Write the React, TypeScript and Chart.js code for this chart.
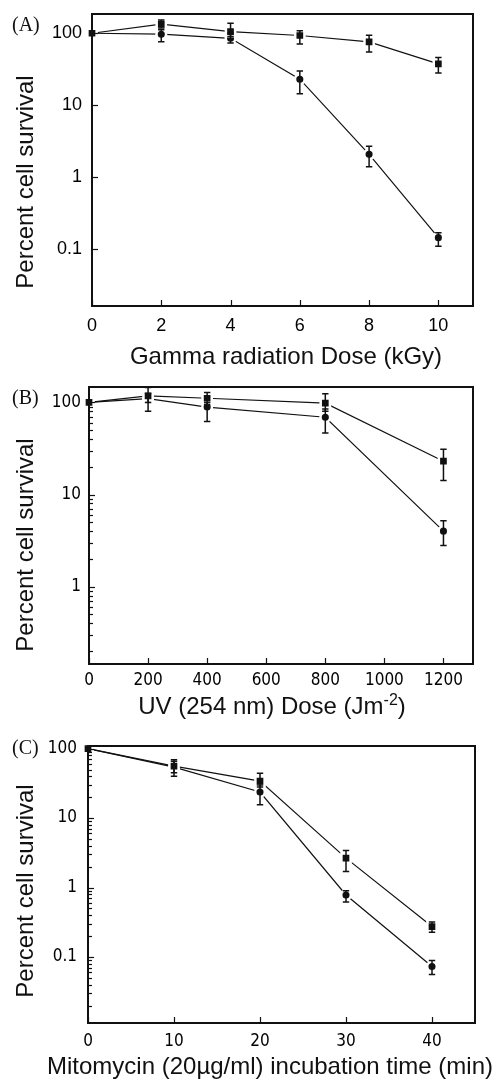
import React, { useEffect, useRef } from "react";
import { Chart, registerables } from "chart.js";

Chart.register(...registerables);

// ---------- Panel A: gamma radiation ----------
const gammaDose = [0, 2, 4, 6, 8, 10];
const gammaSquare = [100, 134, 105, 93, 76, 37.5];
const gammaSquareHi = [null, 153, 138, 108, 94, 46];
const gammaSquareLo = [null, 118, 90, 71, 55, 28];
const gammaCircle = [100, 97, 85, 23, 2.08, 0.145];
const gammaCircleHi = [null, 112, 100, 30, 2.7, 0.17];
const gammaCircleLo = [null, 76, 73, 14.4, 1.4, 0.11];
const gammaXTicks = [0, 2, 4, 6, 8, 10];
const gammaYTicks = [0.1, 1, 10, 100];

// ---------- Panel B: UV ----------
const uvDose = [0, 200, 400, 800, 1200];
const uvSquare = [100, 118, 111, 98, 23];
const uvSquareHi = [null, 145, 128, 124, 31];
const uvSquareLo = [null, 100, 95, 80, 14.2];
const uvCircle = [100, 110, 89, 69, 4.0];
const uvCircleHi = [null, 125, 100, 85, 5.2];
const uvCircleLo = [null, 80, 62, 46.5, 2.8];
const uvXTicks = [0, 200, 400, 600, 800, 1000, 1200];
const uvYTicks = [0.2, 0.3, 0.4, 0.5, 0.6, 0.7, 0.8, 0.9, 1, 2, 3, 4, 5, 6, 7, 8, 9, 10, 20, 30, 40, 50, 60, 70, 80, 90, 100];

// ---------- Panel C: mitomycin ----------
const mitoTime = [0, 10, 20, 30, 40];
const mitoSquare = [100, 56, 34, 2.65, 0.274];
const mitoSquareHi = [null, 69, 44, 3.4, 0.32];
const mitoSquareLo = [null, 45, 28, 1.7, 0.227];
const mitoCircle = [100, 54, 23.7, 0.78, 0.073];
const mitoCircleHi = [null, 66, 30, 0.9, 0.089];
const mitoCircleLo = [null, 40, 15.6, 0.62, 0.056];
const mitoXTicks = [0, 10, 20, 30, 40];
const mitoYTicks = [0.02, 0.03, 0.04, 0.05, 0.06, 0.07, 0.08, 0.09, 0.1, 0.2, 0.3, 0.4, 0.5, 0.6, 0.7, 0.8, 0.9, 1, 2, 3, 4, 5, 6, 7, 8, 9, 10, 20, 30, 40, 50, 60, 70, 80, 90, 100];

// labelled decades
const decadeTicks = [0.1, 1, 10, 100];

const INK = "#111";

const errorBarPlugin = {
  id: "errorBars",
  afterDatasetsDraw(chart: any) {
    const ctx = chart.ctx;
    const xs = chart.scales.x;
    const ys = chart.scales.y;
    ctx.save();
    ctx.strokeStyle = INK;
    ctx.lineWidth = 1.5;
    chart.data.datasets.forEach((ds: any) => {
      const hi = ds.errHi;
      const lo = ds.errLo;
      if (!hi) return;
      ds.data.forEach((pt: any, j: number) => {
        if (hi[j] == null) return;
        const px = xs.getPixelForValue(pt.x);
        const pH = ys.getPixelForValue(hi[j]);
        const pL = ys.getPixelForValue(lo[j]);
        const cap = 3.2;
        ctx.beginPath();
        ctx.moveTo(px, pH);
        ctx.lineTo(px, pL);
        ctx.moveTo(px - cap, pH);
        ctx.lineTo(px + cap, pH);
        ctx.moveTo(px - cap, pL);
        ctx.lineTo(px + cap, pL);
        ctx.stroke();
      });
    });
    ctx.restore();
  },
};

const framePlugin = {
  id: "frame",
  afterDraw(chart: any) {
    const ctx = chart.ctx;
    const { left, right, top, bottom } = chart.chartArea;
    const xs = chart.scales.x;
    const ys = chart.scales.y;
    ctx.save();
    ctx.strokeStyle = INK;
    ctx.lineWidth = 1.2;
    ys.ticks.forEach((t: any) => {
      const py = Math.round(ys.getPixelForValue(t.value)) + 0.5;
      const len = decadeTicks.includes(t.value) ? 6 : 4;
      ctx.beginPath();
      ctx.moveTo(left, py);
      ctx.lineTo(left + len, py);
      ctx.stroke();
    });
    xs.ticks.forEach((t: any) => {
      const px = Math.round(xs.getPixelForValue(t.value)) + 0.5;
      ctx.beginPath();
      ctx.moveTo(px, bottom);
      ctx.lineTo(px, bottom - 6);
      ctx.stroke();
    });
    ctx.lineWidth = 2;
    ctx.strokeRect(left, top, right - left, bottom - top);
    ctx.restore();
  },
};

type PanelProps = {
  top: number;
  height: number;
  padTop: number;
  padRight: number;
  yAxisW: number;
  xAxisH: number;
  xMin: number;
  xMax: number;
  yMin: number;
  yMax: number;
  xTicks: number[];
  yTicks: number[];
  xs: number[];
  sq: number[];
  sqHi: (number | null)[];
  sqLo: (number | null)[];
  ci: number[];
  ciHi: (number | null)[];
  ciLo: (number | null)[];
  tickFont: any;
  xPad: number;
  yPad: number;
};

function Panel(p: PanelProps) {
  const ref = useRef<HTMLCanvasElement>(null);
  useEffect(() => {
    if (!ref.current) return;
    const mk = (vals: number[]) => vals.map((v, i) => ({ x: p.xs[i], y: v }));
    const chart = new Chart(ref.current, {
      type: "line",
      data: {
        datasets: [
          {
            data: mk(p.sq),
            errHi: p.sqHi,
            errLo: p.sqLo,
            borderColor: INK,
            borderWidth: 1.2,
            pointStyle: "rect",
            pointRadius: 6.5,
            pointBackgroundColor: INK,
            pointBorderColor: "#fff",
            pointBorderWidth: 2.5,
            tension: 0,
          } as any,
          {
            data: mk(p.ci),
            errHi: p.ciHi,
            errLo: p.ciLo,
            borderColor: INK,
            borderWidth: 1.2,
            pointStyle: "circle",
            pointRadius: 4.8,
            pointBackgroundColor: INK,
            pointBorderColor: "#fff",
            pointBorderWidth: 2.5,
            tension: 0,
          } as any,
        ],
      },
      options: {
        animation: false,
        responsive: false,
        devicePixelRatio: 1,
        clip: false as any,
        layout: { padding: { top: p.padTop, right: p.padRight, left: 0, bottom: 0 } },
        plugins: { legend: { display: false }, tooltip: { enabled: false } },
        scales: {
          x: {
            type: "linear",
            min: p.xMin,
            max: p.xMax,
            grid: { display: false, drawTicks: false },
            border: { display: false },
            ticks: {
              autoSkip: false,
              maxRotation: 0,
              padding: p.xPad,
              color: "#000",
              font: p.tickFont,
              callback: (v: any) => String(v),
            },
            afterBuildTicks: (s: any) => {
              s.ticks = p.xTicks.map((v) => ({ value: v }));
            },
            afterFit: (s: any) => {
              s.height = p.xAxisH;
              s.paddingLeft = 0;
              s.paddingRight = 0;
            },
          },
          y: {
            type: "logarithmic",
            min: p.yMin,
            max: p.yMax,
            grid: { display: false, drawTicks: false },
            border: { display: false },
            ticks: {
              autoSkip: false,
              padding: p.yPad,
              color: "#000",
              font: p.tickFont,
              callback: (v: any) => (decadeTicks.includes(Number(v)) ? String(v) : ""),
            },
            afterBuildTicks: (s: any) => {
              s.ticks = p.yTicks.map((v) => ({ value: v, major: decadeTicks.includes(v) }));
            },
            afterFit: (s: any) => {
              s.width = p.yAxisW;
              s.paddingTop = 0;
              s.paddingBottom = 0;
            },
          },
        },
      } as any,
      plugins: [errorBarPlugin, framePlugin],
    });
    return () => chart.destroy();
  }, []);
  return (
    <div style={{ position: "absolute", left: 0, top: p.top, width: 497, height: p.height }}>
      <canvas ref={ref} width={497} height={p.height} style={{ display: "block" }} />
    </div>
  );
}

const titleFont = "'Liberation Sans', Arial, sans-serif";
const serifFont = "'Liberation Serif', 'Times New Roman', serif";

function YTitle({ cx, cy, text }: { cx: number; cy: number; text: string }) {
  return (
    <div
      style={{
        position: "absolute",
        left: cx,
        top: cy,
        transform: "translate(-50%, -50%) rotate(-90deg)",
        fontFamily: titleFont,
        fontSize: 24,
        lineHeight: 1,
        whiteSpace: "nowrap",
        color: INK,
      }}
    >
      {text}
    </div>
  );
}

function XTitle({ cx, cy, children }: { cx: number; cy: number; children: any }) {
  return (
    <div
      style={{
        position: "absolute",
        left: cx,
        top: cy,
        transform: "translate(-50%, -50%)",
        fontFamily: titleFont,
        fontSize: 24,
        lineHeight: 1,
        whiteSpace: "nowrap",
        color: INK,
      }}
    >
      {children}
    </div>
  );
}

function PanelLabel({ x, y, text }: { x: number; y: number; text: string }) {
  return (
    <div
      style={{
        position: "absolute",
        left: x,
        top: y,
        fontFamily: serifFont,
        fontSize: 20,
        lineHeight: 1,
        whiteSpace: "nowrap",
        color: INK,
      }}
    >
      {text}
    </div>
  );
}

export default function App() {
  const fontA = { family: "'Liberation Sans', Arial, sans-serif", size: 18 };
  const fontBC = { family: "'DejaVu Sans Condensed', 'DejaVu Sans', sans-serif", size: 17 };
  return (
    <div style={{ position: "fixed", left: 0, top: 0, width: 497, height: 1080, background: "#fff", overflow: "hidden" }}>
      <Panel
        top={0}
        height={372}
        padTop={14}
        padRight={24}
        yAxisW={92}
        xAxisH={66}
        xMin={0}
        xMax={11}
        yMin={0.0163}
        yMax={185}
        xTicks={gammaXTicks}
        yTicks={gammaYTicks}
        xs={gammaDose}
        sq={gammaSquare}
        sqHi={gammaSquareHi}
        sqLo={gammaSquareLo}
        ci={gammaCircle}
        ciHi={gammaCircleHi}
        ciLo={gammaCircleLo}
        tickFont={fontA}
        xPad={9}
        yPad={10}
      />
      <Panel
        top={372}
        height={356}
        padTop={15}
        padRight={24}
        yAxisW={89}
        xAxisH={64}
        xMin={0}
        xMax={1300}
        yMin={0.1445}
        yMax={147}
        xTicks={uvXTicks}
        yTicks={uvYTicks}
        xs={uvDose}
        sq={uvSquare}
        sqHi={uvSquareHi}
        sqLo={uvSquareLo}
        ci={uvCircle}
        ciHi={uvCircleHi}
        ciLo={uvCircleLo}
        tickFont={fontBC}
        xPad={6}
        yPad={8}
      />
      <Panel
        top={728}
        height={352}
        padTop={18}
        padRight={22}
        yAxisW={88}
        xAxisH={57}
        xMin={0}
        xMax={45}
        yMin={0.0112}
        yMax={109}
        xTicks={mitoXTicks}
        yTicks={mitoYTicks}
        xs={mitoTime}
        sq={mitoSquare}
        sqHi={mitoSquareHi}
        sqLo={mitoSquareLo}
        ci={mitoCircle}
        ciHi={mitoCircleHi}
        ciLo={mitoCircleLo}
        tickFont={fontBC}
        xPad={8}
        yPad={11}
      />
      <PanelLabel x={12} y={14} text="(A)" />
      <PanelLabel x={12} y={387} text="(B)" />
      <PanelLabel x={12} y={737} text="(C)" />
      <YTitle cx={25} cy={182} text="Percent cell survival" />
      <YTitle cx={25} cy={545} text="Percent cell survival" />
      <YTitle cx={25} cy={891} text="Percent cell survival" />
      <XTitle cx={286} cy={356}>Gamma radiation Dose (kGy)</XTitle>
      <XTitle cx={272} cy={706}>
        UV (254 nm) Dose (Jm<sup style={{ fontSize: 16, verticalAlign: "super", lineHeight: 0 }}>-2</sup>)
      </XTitle>
      <XTitle cx={270} cy={1066}>Mitomycin (20µg/ml) incubation time (min)</XTitle>
    </div>
  );
}
